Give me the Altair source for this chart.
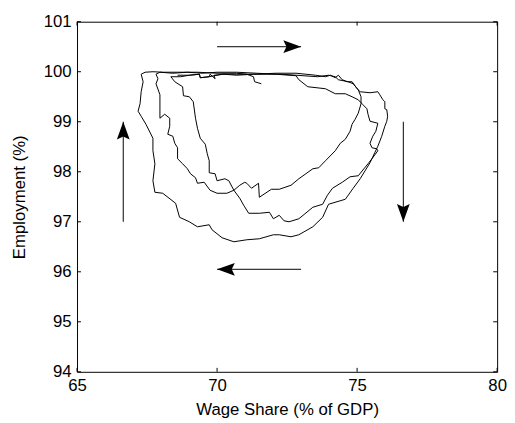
import altair as alt
import pandas as pd

# ---------------- data (wage share % of GDP, employment %) ----------------
top1_wage = [68.59, 69.01, 69.37, 69.40, 69.72, 70.18, 70.70, 71.30, 71.76, 72.29, 72.82]
top1_emp = [99.93, 99.93, 99.95, 99.88, 99.90, 99.95, 99.95, 99.95, 99.95, 99.95, 99.93]

loop1_wage = [73.59, 73.98, 74.22, 74.33, 74.68, 74.86, 75.04, 75.14, 75.14, 75.04, 74.93, 74.82,
              74.75, 74.58, 74.40, 74.22, 73.87, 73.63, 73.42, 73.17, 72.92, 72.64, 72.22, 71.94,
              71.51, 71.48, 71.23, 71.06, 70.99, 70.81, 70.60, 70.35, 70.00, 69.75, 69.54, 69.30,
              69.23, 69.05, 68.94, 68.77, 68.59, 68.59, 68.49, 68.42, 68.24, 68.31, 68.31, 68.13,
              67.96, 67.96, 67.82, 67.89, 67.82, 67.96]
loop1_emp = [99.90, 99.93, 99.90, 99.84, 99.80, 99.76, 99.64, 99.50, 99.36, 99.17, 99.05, 98.95,
             98.81, 98.65, 98.57, 98.42, 98.22, 98.08, 98.06, 97.96, 97.86, 97.73, 97.65, 97.65,
             97.49, 97.77, 97.67, 97.77, 97.79, 97.73, 97.63, 97.57, 97.57, 97.63, 97.79, 97.77,
             97.88, 97.96, 98.06, 98.16, 98.26, 98.48, 98.57, 98.71, 98.75, 98.91, 99.07, 99.15,
             99.07, 99.54, 99.76, 99.86, 99.95, 99.99]

top2_wage = [68.42, 68.94, 69.47, 70.00, 70.70, 71.41, 72.11, 72.82]
top2_emp = [99.97, 99.99, 99.97, 99.99, 99.99, 99.97, 99.95, 99.92]

loop2_wage = [72.92, 73.24, 73.87, 74.22, 74.58, 74.82, 75.04, 75.21, 75.35, 75.39, 75.46, 75.74,
              75.67, 75.56, 75.46, 75.53, 75.70, 75.74, 75.53, 75.39, 75.04, 74.75, 74.47, 74.12,
              73.94, 73.77, 73.42, 72.92, 72.57, 72.39, 72.22, 72.01, 71.87, 71.51, 71.13, 70.95,
              70.81, 70.60, 70.42, 70.28, 70.00, 69.93, 69.72, 69.72, 69.65, 69.58, 69.40, 69.30,
              69.23, 69.15, 69.01, 68.80, 68.77, 68.49, 68.35]
loop2_emp = [99.84, 99.70, 99.66, 99.56, 99.56, 99.50, 99.44, 99.34, 99.26, 99.15, 99.01, 98.97,
             98.81, 98.71, 98.57, 98.48, 98.46, 98.42, 98.26, 98.16, 97.92, 97.90, 97.79, 97.67,
             97.53, 97.35, 97.29, 97.06, 97.00, 97.02, 97.13, 97.06, 97.19, 97.17, 97.17, 97.33,
             97.47, 97.63, 97.82, 97.86, 97.82, 97.96, 97.98, 98.22, 98.36, 98.55, 98.67, 98.87,
             99.07, 99.40, 99.50, 99.52, 99.70, 99.80, 99.90]

top3_wage = [68.70, 69.01, 69.37, 69.40, 69.72, 69.75, 69.93, 69.89, 70.25, 70.70, 71.30, 72.11,
             72.82, 73.17, 73.52, 73.87, 74.05, 74.22, 74.33, 74.47, 74.65, 74.82, 75.00, 75.11]
top3_emp = [99.90, 99.93, 99.95, 99.88, 99.90, 99.95, 99.86, 99.93, 99.95, 99.93, 99.95, 99.97,
            99.97, 99.95, 99.93, 99.90, 99.93, 99.88, 99.93, 99.84, 99.80, 99.80, 99.66, 99.60]

loop3_wage = [75.46, 75.74, 75.81, 75.92, 75.99, 75.99, 76.06, 76.09, 76.06, 75.99, 75.88, 75.74,
              75.63, 75.46, 75.11, 74.86, 74.58, 73.98, 73.77, 73.42, 72.92, 72.64, 72.22, 72.01,
              71.51, 71.06, 70.60, 70.18, 69.82, 69.72, 69.30, 69.01, 68.66, 68.52, 68.06, 67.78,
              67.71, 67.78, 67.71, 67.71, 67.46, 67.29, 67.18, 67.25, 67.29, 67.36, 67.29, 67.43,
              67.71]
loop3_emp = [99.58, 99.60, 99.54, 99.44, 99.40, 99.26, 99.24, 99.11, 99.01, 98.91, 98.71, 98.51,
             98.38, 98.18, 97.86, 97.67, 97.45, 97.35, 97.09, 96.90, 96.74, 96.70, 96.74, 96.74,
             96.66, 96.64, 96.60, 96.68, 96.84, 96.94, 96.90, 97.00, 97.09, 97.37, 97.57, 97.59,
             97.82, 98.16, 98.42, 98.67, 98.95, 99.11, 99.21, 99.36, 99.60, 99.80, 99.95, 99.99,
             100.00]

top4_wage = [68.06, 68.59, 69.30, 70.00, 70.70, 71.06, 71.30, 71.34, 71.58]
top4_emp = [99.99, 99.99, 99.99, 99.97, 99.97, 99.95, 99.90, 99.80, 99.76]

# direction arrows: start -> tip
arrow_x_start = [70.0, 76.65, 73.0, 66.65]
arrow_x_tip = [73.0, 76.65, 70.0, 66.65]
arrow_y_start = [100.5, 99.0, 96.05, 97.0]
arrow_y_tip = [100.5, 97.0, 96.05, 99.0]
arrow_angle = [0, 90, 180, 270]

X_TICKS = [65, 70, 75, 80]
Y_TICKS = [94, 95, 96, 97, 98, 99, 100, 101]

# ---------------- build tables ----------------
segments = [(top1_wage, top1_emp), (loop1_wage, loop1_emp), (top2_wage, top2_emp),
            (loop2_wage, loop2_emp), (top3_wage, top3_emp), (loop3_wage, loop3_emp),
            (top4_wage, top4_emp)]
rows = []
for ws, es in segments:
    for w, e in zip(ws, es):
        rows.append({"wage": w, "emp": e, "order": len(rows)})
traj = pd.DataFrame(rows)

arrows = pd.DataFrame({"x0": arrow_x_start, "x1": arrow_x_tip,
                       "y0": arrow_y_start, "y1": arrow_y_tip, "angle": arrow_angle})
xt = pd.DataFrame({"tick": X_TICKS})
yt = pd.DataFrame({"tick": Y_TICKS})
dummy = pd.DataFrame({"a": [0]})

# ---------------- styling ----------------
FONT = "Liberation Sans"
W, H = 426, 355
TICK = 4
HEAD = "M0,0L-2,-0.72L-1.65,0L-2,0.72Z"

x_scale = alt.Scale(domain=[65, 80], nice=False, zero=False)
y_scale = alt.Scale(domain=[94, 101], nice=False, zero=False)

common = dict(grid=False, ticks=False, tickSize=0, domain=True, domainColor="black",
              domainWidth=1, labelFont=FONT, labelFontSize=17, labelColor="black",
              labelFlush=False, labelOverlap=False, labelPadding=6, format="d",
              titleFont=FONT, titleFontSize=17, titleFontWeight="normal", titleColor="black")
x_axis = alt.Axis(values=X_TICKS, title="Wage Share (% of GDP)", titleX=W / 2, titleY=43,
                  titleAlign="center", titleBaseline="alphabetic", **common)
y_axis = alt.Axis(values=Y_TICKS, title="Employment (%)", titleX=-53.5, titleY=H / 2,
                  titleAngle=270, titleAlign="center", titleBaseline="alphabetic", **common)

X = lambda f: alt.X(f, type="quantitative", scale=x_scale, axis=x_axis)
Y = lambda f: alt.Y(f, type="quantitative", scale=y_scale, axis=y_axis)

line = alt.Chart(traj).mark_line(color="black", strokeWidth=1).encode(
    x=X("wage"), y=Y("emp"), order="order:Q")

shafts = alt.Chart(arrows).mark_rule(color="black", strokeWidth=1).encode(
    x=X("x0"), x2="x1:Q", y=Y("y0"), y2="y1:Q")

heads = alt.Chart(arrows).mark_point(shape=HEAD, filled=True, size=324, color="black",
                                     opacity=1).encode(
    x=X("x1"), y=Y("y1"), angle=alt.Angle("angle:Q", scale=None))

frame_top = alt.Chart(dummy).mark_rule(color="black", strokeWidth=1).encode(
    x=alt.value(0), x2=alt.value(W + 0.5), y=alt.value(0.5))
frame_right = alt.Chart(dummy).mark_rule(color="black", strokeWidth=1).encode(
    x=alt.value(W + 0.5), y=alt.value(0), y2=alt.value(H + 0.5))

xt_bottom = alt.Chart(xt).mark_rule(color="black", strokeWidth=1).encode(
    x=X("tick"), y=alt.value(H), y2=alt.value(H - TICK))
xt_top = alt.Chart(xt).mark_rule(color="black", strokeWidth=1).encode(
    x=X("tick"), y=alt.value(0), y2=alt.value(TICK))
yt_left = alt.Chart(yt).mark_rule(color="black", strokeWidth=1).encode(
    y=Y("tick"), x=alt.value(0), x2=alt.value(TICK))
yt_right = alt.Chart(yt).mark_rule(color="black", strokeWidth=1).encode(
    y=Y("tick"), x=alt.value(W), x2=alt.value(W - TICK))

chart = alt.layer(
    line, shafts, heads, frame_top, frame_right, xt_bottom, xt_top, yt_left, yt_right
).properties(
    width=W, height=H,
    autosize=alt.AutoSizeParams(type="none"),
    padding={"left": 70, "top": 11, "right": 10, "bottom": 49},
    background="white",
).configure_view(stroke=None)

chart.save("out.html", embed_options={"renderer": "svg", "actions": False})
